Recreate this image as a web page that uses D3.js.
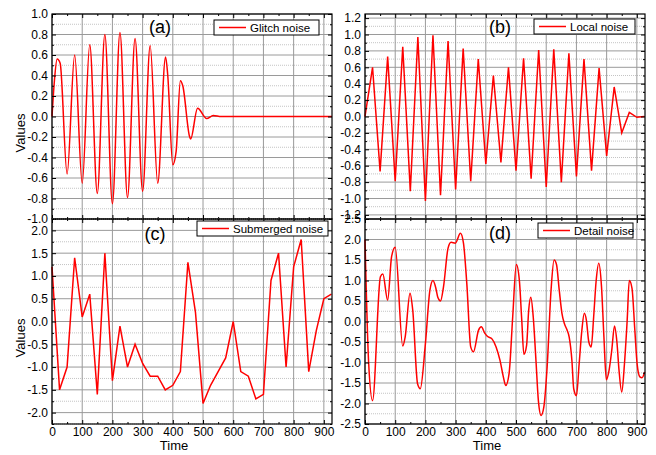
<!DOCTYPE html>
<html>
<head>
<meta charset="utf-8">
<script src="https://cdn.jsdelivr.net/npm/d3@7"></script>
<style>
  body { margin: 0; background: #fff; }
  text { font-family: Arial, "Liberation Sans", sans-serif; }
</style>
</head>
<body>
<div class="container"></div>
<script>
// ---- data ----
const timeTicks = [0, 100, 200, 300, 400, 500, 600, 700, 800, 900];
const timeMinor = [50, 150, 250, 350, 450, 550, 650, 750, 850];

const glitchTime  = [0, 8, 17, 27, 50, 75, 100, 125, 150, 175, 200, 225, 250, 275, 300, 325, 350, 376, 383, 400, 411, 425, 433, 455, 459, 482, 512, 534, 560, 927];
const glitchValue = [0, 0.35, 0.56, 0.52, -0.56, 0.60, -0.65, 0.70, -0.75, 0.80, -0.85, 0.82, -0.79, 0.76, -0.73, 0.69, -0.65, 0.58, 0.41, -0.47, -0.34, 0.35, 0.30, -0.19, -0.22, 0.08, -0.02, 0.01, 0, 0];

const localTime  = [0, 25, 50, 75, 100, 125, 150, 175, 200, 225, 250, 275, 300, 325, 350, 375, 400, 425, 450, 475, 500, 525, 550, 575, 600, 625, 650, 675, 700, 725, 750, 775, 800, 825, 850, 875, 900, 925];
const localValue = [0, 0.60, -0.67, 0.73, -0.79, 0.85, -0.91, 0.97, -1.03, 0.99, -0.96, 0.92, -0.89, 0.83, -0.79, 0.70, -0.58, 0.50, -0.56, 0.60, -0.66, 0.71, -0.76, 0.81, -0.86, 0.82, -0.80, 0.77, -0.73, 0.70, -0.66, 0.59, -0.48, 0.36, -0.20, 0.05, -0.01, 0];

const submergedTime  = [0, 25, 50, 75, 100, 125, 150, 175, 200, 225, 250, 275, 300, 325, 350, 375, 400, 425, 450, 475, 500, 525, 550, 575, 600, 625, 650, 675, 700, 725, 750, 775, 800, 825, 850, 875, 900, 925];
const submergedValue = [1.2, -1.5, -1.0, 1.4, 0.1, 0.6, -1.6, 1.5, -1.3, -0.1, -1.0, -0.5, -0.92, -1.2, -1.2, -1.5, -1.4, -1.1, 1.3, 0.2, -1.8, -1.4, -1.1, -0.8, 0.0, -1.1, -1.2, -1.7, -1.6, 0.9, 1.5, -1.0, 1.2, 1.8, -1.1, -0.2, 0.5, 0.6];

const detailTime  = [0, 12, 25, 51, 59, 75, 88, 100, 125, 133, 149, 158, 174, 183, 200, 215, 225, 234, 241, 250, 260, 275, 285, 299, 316, 326, 337, 350, 359, 376, 385, 397, 405, 421, 434, 447, 458, 466, 477, 489, 501, 511, 519, 526, 535, 542, 549, 557, 566, 574, 583, 592, 603, 616, 626, 634, 643, 652, 660, 669, 676, 685, 691, 700, 709, 718, 726, 733, 741, 749, 757, 765, 774, 783, 791, 799, 808, 817, 826, 834, 841, 850, 859, 868, 875, 884, 893, 901, 910, 917, 926];
const detailValue = [2.0, -1.0, -1.93, 1.09, 1.16, 0.52, 1.58, 1.81, -0.60, -0.38, 0.69, 0.28, -1.52, -1.64, -0.54, 0.77, 1.0, 0.83, 0.59, 0.50, 0.85, 1.79, 1.93, 1.91, 2.15, 1.91, 0.93, -0.62, -0.74, -0.21, -0.13, -0.29, -0.36, -0.43, -0.62, -0.95, -1.35, -1.56, -1.27, 0.11, 1.39, 1.01, 0.03, -0.80, -0.58, 0.28, 0.59, 0.11, -0.95, -1.93, -2.29, -2.09, -1.11, 0.77, 1.50, 1.39, 0.77, 0.20, -0.05, -0.21, -0.38, -0.95, -1.64, -1.81, -1.03, -0.21, 0.20, 0.03, -0.50, -0.62, 0.11, 0.97, 1.42, 0.85, -0.38, -1.42, -1.19, -0.70, -0.11, -0.50, -1.19, -1.72, -1.03, 0.03, 1.0, 0.81, -0.17, -1.04, -1.35, -1.37, -1.23];

const yTicksA = [-1.0, -0.8, -0.6, -0.4, -0.2, 0.0, 0.2, 0.4, 0.6, 0.8, 1.0];
const yTicksB = [-1.2, -1.0, -0.8, -0.6, -0.4, -0.2, 0.0, 0.2, 0.4, 0.6, 0.8, 1.0, 1.2];
const yTicksC = [-2.0, -1.5, -1.0, -0.5, 0.0, 0.5, 1.0, 1.5, 2.0];
const yTicksD = [-2.5, -2.0, -1.5, -1.0, -0.5, 0.0, 0.5, 1.0, 1.5, 2.0, 2.5];

const panelTags = ["(a)", "(b)", "(c)", "(d)"];
const legendNames = ["Glitch noise", "Local noise", "Submerged noise", "Detail noise"];

// ---- layout ----
const W = 656, H = 455;
const svg = d3.select(".container").append("svg")
  .attr("width", W).attr("height", H);

const panels = [
  { tag: panelTags[0], name: legendNames[0], t: glitchTime, v: glitchValue, yDom: [-1, 1], ticks: yTicksA, minorStep: 0.1,
    box: [52, 332, 14, 219], xLabels: false, smooth: true, tagX: 160, tagY: 33, leg: [214, 20, 105], yLab: 133 },
  { tag: panelTags[1], name: legendNames[1], t: localTime, v: localValue, yDom: [-1.25, 1.25], ticks: yTicksB, minorStep: 0.1,
    box: [365, 645, 14, 219], xLabels: false, smooth: false, tagX: 500, tagY: 33, leg: [534, 19, 101] },
  { tag: panelTags[2], name: legendNames[2], t: submergedTime, v: submergedValue, yDom: [-2.25, 2.25], ticks: yTicksC, minorStep: 0.25,
    box: [52, 332, 219, 424], xLabels: true, smooth: false, tagX: 155, tagY: 240, leg: [197, 221, 131], yLab: 338, xLab: 174 },
  { tag: panelTags[3], name: legendNames[3], t: detailTime, v: detailValue, yDom: [-2.5, 2.5], ticks: yTicksD, minorStep: 0.25,
    box: [365, 645, 219, 424], xLabels: true, smooth: true, tagX: 500, tagY: 239, leg: [538, 223, 95], xLab: 487 }
];

const fmt = d => d.toFixed(1);
const tmax = 927;

panels.forEach((p, i) => {
  const [x0, x1, y0, y1] = p.box;
  const x = d3.scaleLinear().domain([0, tmax]).range([x0, x1]);
  const y = d3.scaleLinear().domain(p.yDom).range([y1, y0]);

  const g = svg.append("g");

  // minor horizontal grid (dotted)
  let minor = [];
  for (let k = Math.ceil(p.yDom[0] / p.minorStep); k * p.minorStep <= p.yDom[1] + 1e-9; k++) {
    const val = Math.round(k * p.minorStep * 1000) / 1000;
    if (!p.ticks.some(t => Math.abs(t - val) < 1e-6)) minor.push(val);
  }
  g.selectAll(".mgrid").data(minor).enter().append("line")
    .attr("x1", x0).attr("x2", x1)
    .attr("y1", d => y(d)).attr("y2", d => y(d))
    .attr("stroke", "#c4c4c4")
    .attr("stroke-dasharray", "1,1");

  // major grid
  g.selectAll(".hgrid").data(p.ticks).enter().append("line")
    .attr("x1", x0).attr("x2", x1)
    .attr("y1", d => y(d)).attr("y2", d => y(d))
    .attr("stroke", "#9a9a9a");
  g.selectAll(".vgrid").data(timeTicks).enter().append("line")
    .attr("x1", d => x(d)).attr("x2", d => x(d))
    .attr("y1", y0).attr("y2", y1)
    .attr("stroke", "#9a9a9a");

  // data line
  const line = d3.line()
    .x((d, j) => x(p.t[j]))
    .y(d => y(d))
    .curve(p.smooth ? d3.curveMonotoneX : d3.curveLinear);
  g.append("path")
    .datum(p.v)
    .attr("fill", "none")
    .attr("stroke", "#ff0000")
    .attr("stroke-width", 1.5)
    .attr("d", line);

  // axes with inward ticks
  const axisStyle = sel => {
    sel.attr("font-size", 12).attr("font-family", "Arial, 'Liberation Sans', sans-serif");
    sel.select(".domain").remove();
    sel.selectAll("text").attr("fill", "#000");
  };
  g.append("g").attr("transform", `translate(${x0},0)`)
    .call(d3.axisLeft(y).tickValues(p.ticks).tickFormat(fmt).tickSize(-4).tickPadding(4))
    .call(axisStyle);
  g.append("g").attr("transform", `translate(${x0},0)`)
    .call(d3.axisLeft(y).tickValues(minor).tickFormat("").tickSize(-2))
    .call(axisStyle);
  g.append("g").attr("transform", `translate(${x1},0)`)
    .call(d3.axisRight(y).tickValues(p.ticks).tickFormat("").tickSize(-4))
    .call(axisStyle);
  g.append("g").attr("transform", `translate(${x1},0)`)
    .call(d3.axisRight(y).tickValues(minor).tickFormat("").tickSize(-2))
    .call(axisStyle);
  g.append("g").attr("transform", `translate(0,${y1})`)
    .call(d3.axisBottom(x).tickValues(timeTicks).tickFormat(p.xLabels ? d3.format("d") : "").tickSize(-4).tickPadding(3))
    .call(axisStyle);
  g.append("g").attr("transform", `translate(0,${y1})`)
    .call(d3.axisBottom(x).tickValues(timeMinor).tickFormat("").tickSize(-2))
    .call(axisStyle);
  g.append("g").attr("transform", `translate(0,${y0})`)
    .call(d3.axisTop(x).tickValues(timeTicks).tickFormat("").tickSize(-4))
    .call(axisStyle);
  g.append("g").attr("transform", `translate(0,${y0})`)
    .call(d3.axisTop(x).tickValues(timeMinor).tickFormat("").tickSize(-2))
    .call(axisStyle);

  // frame
  g.append("rect")
    .attr("x", x0).attr("y", y0)
    .attr("width", x1 - x0).attr("height", y1 - y0)
    .attr("fill", "none").attr("stroke", "#000").attr("stroke-width", 1.2);

  // panel tag
  g.append("text")
    .attr("x", p.tagX).attr("y", p.tagY)
    .attr("text-anchor", "middle")
    .attr("font-size", 18)
    .text(p.tag);

  // legend
  const [lx, ly, lw] = p.leg;
  const leg = g.append("g").attr("transform", `translate(${lx},${ly})`);
  leg.append("rect")
    .attr("width", lw).attr("height", 15)
    .attr("fill", "#fff").attr("stroke", "#000");
  leg.append("line")
    .attr("x1", 5).attr("x2", 32).attr("y1", 7.5).attr("y2", 7.5)
    .attr("stroke", "#ff0000").attr("stroke-width", 1.5);
  leg.append("text")
    .attr("x", 36).attr("y", 11.5)
    .attr("font-size", 11.5)
    .text(p.name);

  // axis titles
  if (p.yLab) {
    g.append("text")
      .attr("transform", `translate(25,${p.yLab}) rotate(-90)`)
      .attr("text-anchor", "middle")
      .attr("font-size", 13)
      .text("Values");
  }
  if (p.xLab) {
    g.append("text")
      .attr("x", p.xLab).attr("y", 450)
      .attr("text-anchor", "middle")
      .attr("font-size", 13)
      .text("Time");
  }
});
</script>
</body>
</html>
